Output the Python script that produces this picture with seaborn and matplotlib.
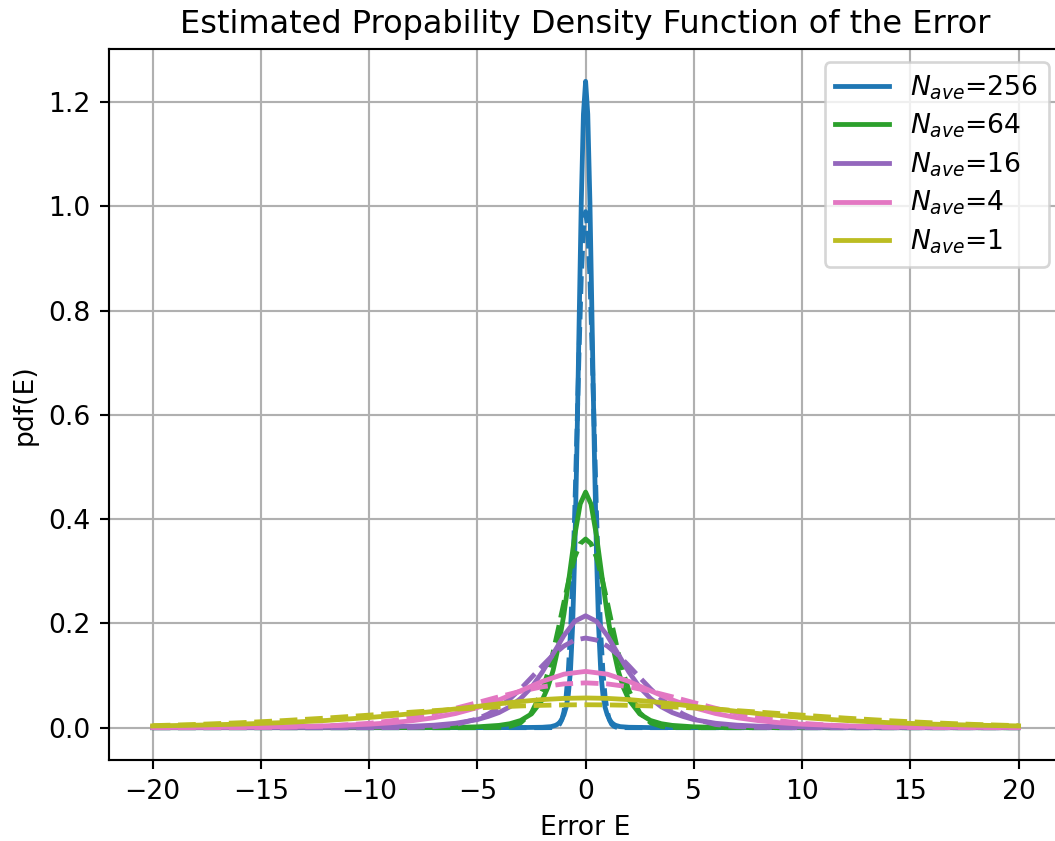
import numpy as np
import pandas as pd
import matplotlib
matplotlib.use("Agg")
import matplotlib.pyplot as plt
import seaborn as sns

# ---- data (x >= 0 half; curves are symmetric about E = 0) ----
n_ave = [256, 64, 16, 4, 1]
colors = ["#1f77b4", "#2ca02c", "#9467bd", "#e377c2", "#bcbd22"]

x_256 = [0, 0.1, 0.2, 0.3, 0.4, 0.5, 0.6, 0.7, 0.8, 0.9, 1.0, 1.1, 1.2, 1.3, 1.4, 1.6, 2.0, 3.0, 5.0, 10.0, 20.0]
pdf_256 = [1.240, 1.177, 1.007, 0.776, 0.539, 0.338, 0.195, 0.108, 0.063, 0.039, 0.025, 0.016, 0.010,
           0.0065, 0.0043, 0.0020, 0.0008, 0.0002, 0.0001, 0.0, 0.0]
gauss_256 = [0.990, 0.956, 0.862, 0.725, 0.569, 0.417, 0.285, 0.181, 0.108, 0.060, 0.031, 0.015, 0.0068,
             0.0029, 0.0011, 0.0001, 0.0, 0.0, 0.0, 0.0, 0.0]

x_64 = [0, 0.25, 0.5, 0.75, 1.0, 1.25, 1.5, 1.75, 2.0, 2.5, 3.0, 3.5, 4.0, 5.0, 6.0, 8.0, 10.0, 20.0]
pdf_64 = [0.452, 0.429, 0.369, 0.292, 0.218, 0.157, 0.110, 0.0765, 0.0533, 0.0264, 0.0138, 0.0076,
          0.0044, 0.0016, 0.0007, 0.0002, 0.0001, 0.0]
gauss_64 = [0.362, 0.353, 0.327, 0.288, 0.241, 0.192, 0.145, 0.1045, 0.0714, 0.0286, 0.0094, 0.0025,
            0.0005, 0.0, 0.0, 0.0, 0.0, 0.0]

x_16 = [0, 0.5, 1, 1.5, 2, 2.5, 3, 3.5, 4, 4.5, 5, 6, 7, 8, 10, 12, 15, 20]
pdf_16 = [0.2147, 0.2042, 0.1768, 0.1415, 0.1067, 0.0773, 0.0560, 0.0400, 0.0290, 0.0215, 0.0155,
          0.0085, 0.0048, 0.0029, 0.0011, 0.0005, 0.0002, 0.0001]
gauss_16 = [0.172, 0.1681, 0.1567, 0.1396, 0.1186, 0.0963, 0.0745, 0.0551, 0.0389, 0.0262, 0.0169,
            0.0061, 0.0018, 0.0004, 0.0, 0.0, 0.0, 0.0]

x_4 = [0, 1, 2, 3, 4, 5, 6, 7, 8, 9, 10, 12, 14, 16, 18, 20]
pdf_4 = [0.108, 0.1027, 0.0888, 0.0708, 0.0533, 0.0385, 0.0272, 0.0191, 0.0134, 0.0094, 0.0067,
         0.0035, 0.0019, 0.0011, 0.0007, 0.0004]
gauss_4 = [0.086, 0.084, 0.0784, 0.0698, 0.0593, 0.0481, 0.0373, 0.0276, 0.0195, 0.0131, 0.0084,
           0.0030, 0.0009, 0.0002, 0.0001, 0.0]

x_1 = [0, 1, 2, 3, 4, 5, 6, 7, 8, 9, 10, 12, 14, 16, 18, 20]
pdf_1 = [0.057, 0.0562, 0.0539, 0.0503, 0.0458, 0.0408, 0.0360, 0.0313, 0.0270, 0.0230, 0.0195,
         0.0138, 0.0097, 0.0068, 0.0048, 0.0034]
gauss_1 = [0.0440, 0.0437, 0.0429, 0.0417, 0.0399, 0.0378, 0.0354, 0.0327, 0.0299, 0.0270, 0.0241,
           0.0184, 0.0135, 0.0094, 0.0062, 0.0039]

x_ticks = [-20, -15, -10, -5, 0, 5, 10, 15, 20]
y_ticks = [0.0, 0.2, 0.4, 0.6, 0.8, 1.0, 1.2]

title = "Estimated Propability Density Function of the Error"
x_label = "Error E"
y_label = "pdf(E)"

half_x = [x_256, x_64, x_16, x_4, x_1]
half_pdf = [pdf_256, pdf_64, pdf_16, pdf_4, pdf_1]
half_gauss = [gauss_256, gauss_64, gauss_16, gauss_4, gauss_1]


def mirror(xh, yh):
    xh = np.asarray(xh, dtype=float)
    yh = np.asarray(yh, dtype=float)
    return (np.concatenate([-xh[::-1], xh[1:]]),
            np.concatenate([yh[::-1], yh[1:]]))


rows = []
for n, xs, ps, gs in zip(n_ave, half_x, half_pdf, half_gauss):
    xe, ye = mirror(xs, ps)
    for a, b in zip(xe, ye):
        rows.append({"E": a, "pdf": b, "N": n, "kind": "estimated"})
    xe, ye = mirror(xs, gs)
    for a, b in zip(xe, ye):
        rows.append({"E": a, "pdf": b, "N": n, "kind": "gaussian"})
df = pd.DataFrame(rows)

# ---- figure ----
plt.rcParams["font.family"] = ["DejaVu Sans"]
plt.rcParams["axes.unicode_minus"] = True

DPI = 192
LW = 1.8
fig = plt.figure(figsize=(1055 / DPI, 841 / DPI), dpi=DPI)
ax = fig.add_axes([109.3 / 1055, 81 / 841, 952.6 / 1055, 711 / 841])

for n, c in zip(n_ave, colors):
    sub = df[(df["N"] == n) & (df["kind"] == "estimated")]
    sns.lineplot(data=sub, x="E", y="pdf", color=c, linewidth=LW, linestyle="-",
                 estimator=None, sort=False, ax=ax, label=r"$N_{ave}$=" + str(n))
    sub = df[(df["N"] == n) & (df["kind"] == "gaussian")]
    sns.lineplot(data=sub, x="E", y="pdf", color=c, linewidth=LW, linestyle="--",
                 estimator=None, sort=False, ax=ax, label="_nolegend_")

ax.set_xlim(-22, 22)
ax.set_ylim(-0.062, 1.302)
ax.set_xticks(x_ticks)
ax.set_yticks(y_ticks)
ax.grid(True, color="#b0b0b0", linewidth=0.8)
ax.set_axisbelow(True)
ax.tick_params(direction="out", length=3.5, width=0.8, labelsize=10)
for s in ax.spines.values():
    s.set_linewidth(0.8)
    s.set_color("black")

ax.set_title(title, fontsize=12)
ax.set_xlabel(x_label, fontsize=10)
ax.set_ylabel(y_label, fontsize=10)
ax.legend(loc="upper right", fontsize=10, labelspacing=0.38)

fig.savefig("out.png", dpi=DPI)
